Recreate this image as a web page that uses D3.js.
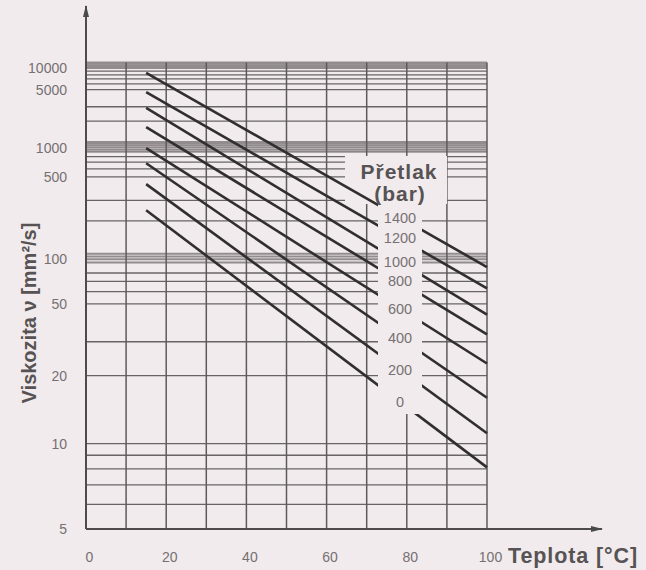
<!DOCTYPE html>
<html>
<head>
<meta charset="utf-8">
<script src="https://cdn.jsdelivr.net/npm/d3@7"></script>
<style>
  body { margin: 0; background: #f1ebed; }
  svg { display: block; font-family: 'Liberation Sans', Arial, sans-serif; }
</style>
</head>
<body>
<div id="chart"></div>
<script>
// Pressure curves: viscosity read at the start (15 °C) and the end (100 °C) of each line
var pressures = [1400, 1200, 1000, 800, 600, 400, 200, 0];
var lineTemps = [15, 100];
var viscAtStart = [8500, 4650, 2900, 1700, 985, 684, 425, 246];
var viscAtEnd = [88, 63, 43, 33, 23, 15.7, 11, 8.1];

var yTickValues = [10000, 5000, 1000, 500, 100, 50, 20, 10, 5];
var xTickValues = [0, 20, 40, 60, 80, 100];
var xGridValues = [10, 20, 30, 40, 50, 60, 70, 80, 90, 100];
var yGridValues = [9000, 8000, 7000, 6000, 5000, 3000, 2000, 900, 800, 700, 600, 500, 300, 200,
                   80, 70, 60, 50, 30, 20, 10, 9, 8, 7, 6, 5];
var yBandValues = [12000, 11500, 11000, 10500, 10000, 1150, 1100, 1050, 1000, 950, 110, 105, 100, 95];

var width = 646;
var height = 570;
var labelTemp = 78.3;

// Walther transform, the usual log-log scale of viscosity charts
var walther = function(v) { return Math.log10(Math.log10(v + 0.7)); };

var x = d3.scaleLinear().domain([0, 100]).range([86, 487]);
var w = d3.scaleLinear().domain([walther(5), walther(10000)]).range([529, 68]);
var y = function(v) { return w(walther(v)); };

var bg = '#f1ebed';
var svg = d3.select('#chart').append('svg')
            .attr('width', width)
            .attr('height', height);

svg.append('rect').attr('width', width).attr('height', height).attr('fill', bg);

var defs = svg.append('defs');
defs.append('marker')
    .attr('id', 'arrow')
    .attr('viewBox', '0 -4 12 8')
    .attr('refX', 11)
    .attr('refY', 0)
    .attr('markerWidth', 12)
    .attr('markerHeight', 8)
    .attr('markerUnits', 'userSpaceOnUse')
    .attr('orient', 'auto')
    .append('path')
    .attr('d', 'M0,-3L12,0L0,3Z')
    .attr('fill', '#4a4a4a');

// grid
var grid = svg.append('g').classed('grid', true);

grid.selectAll('line.band')
    .data(yBandValues)
    .enter()
    .append('line')
    .classed('band', true)
    .attr('x1', x(0))
    .attr('x2', x(100))
    .attr('y1', y)
    .attr('y2', y)
    .attr('stroke', '#928c8f')
    .attr('stroke-width', 2);

grid.selectAll('line.h')
    .data(yGridValues)
    .enter()
    .append('line')
    .classed('h', true)
    .attr('x1', x(0))
    .attr('x2', x(100))
    .attr('y1', y)
    .attr('y2', y)
    .attr('stroke', '#686466')
    .attr('stroke-width', 1.3);

grid.selectAll('line.v')
    .data(xGridValues)
    .enter()
    .append('line')
    .classed('v', true)
    .attr('x1', x)
    .attr('x2', x)
    .attr('y1', y(12000))
    .attr('y2', y(5))
    .attr('stroke', '#5e5a5c')
    .attr('stroke-width', 1.5);

// white space behind the legend title
svg.append('rect')
   .attr('x', 345).attr('y', 156)
   .attr('width', 102).attr('height', 48)
   .attr('fill', bg);

// pressure lines
var lines = pressures.map(function(p, i) {
  return { pressure: p, values: [[lineTemps[0], viscAtStart[i]], [lineTemps[1], viscAtEnd[i]]] };
});

var lineFunc = d3.line()
                 .x(function(d) { return x(d[0]); })
                 .y(function(d) { return y(d[1]); });

svg.append('g')
   .classed('lines-wrapper', true)
   .selectAll('path')
   .data(lines)
   .enter()
   .append('path')
   .attr('d', function(d) { return lineFunc(d.values); })
   .attr('stroke', '#312e2f')
   .attr('stroke-width', 2.6)
   .attr('fill', 'none');

// gap in the lines for the pressure labels
svg.append('rect')
   .attr('x', 378).attr('y', 204)
   .attr('width', 44).attr('height', 210)
   .attr('fill', bg);

var labelY = function(d) {
  var y0 = y(d.values[0][1]);
  var y1 = y(d.values[1][1]);
  var t = (labelTemp - d.values[0][0]) / (d.values[1][0] - d.values[0][0]);
  return y0 + (y1 - y0) * t;
};

svg.append('g')
   .selectAll('text')
   .data(lines)
   .enter()
   .append('text')
   .attr('x', x(labelTemp))
   .attr('y', labelY)
   .attr('text-anchor', 'middle')
   .attr('dominant-baseline', 'central')
   .attr('font-size', 14.5)
   .attr('fill', '#777173')
   .text(function(d) { return d.pressure; });

svg.append('text')
   .attr('x', 399).attr('y', 179)
   .attr('text-anchor', 'middle')
   .attr('font-size', 21)
   .attr('letter-spacing', 1)
   .attr('font-weight', 'bold')
   .attr('fill', '#575354')
   .text('Přetlak');

svg.append('text')
   .attr('x', 400).attr('y', 201)
   .attr('text-anchor', 'middle')
   .attr('font-size', 21)
   .attr('letter-spacing', 1)
   .attr('font-weight', 'bold')
   .attr('fill', '#575354')
   .text('(bar)');

// axes
var yAxis = d3.axisLeft(w)
              .tickValues(yTickValues.map(walther))
              .tickFormat(function(d, i) { return yTickValues[i]; })
              .tickSize(0)
              .tickPadding(19);

var yAxisG = svg.append('g')
                .attr('transform', 'translate(' + x(0) + ',0)')
                .call(yAxis);
yAxisG.select('.domain').remove();
yAxisG.selectAll('text')
      .attr('font-size', 14)
      .attr('font-family', null)
      .attr('fill', '#757072');

var xAxis = d3.axisBottom(x)
              .tickValues(xTickValues)
              .tickSize(0)
              .tickPadding(23);

var xAxisG = svg.append('g')
                .attr('transform', 'translate(3,' + y(5) + ')')
                .call(xAxis);
xAxisG.select('.domain').remove();
xAxisG.selectAll('text')
      .attr('font-size', 14)
      .attr('font-family', null)
      .attr('fill', '#757072');

svg.append('line')
   .attr('x1', x(0)).attr('y1', y(5))
   .attr('x2', x(0)).attr('y2', 6)
   .attr('stroke', '#4f4b4d')
   .attr('stroke-width', 2)
   .attr('marker-end', 'url(#arrow)');

svg.append('line')
   .attr('x1', x(0)).attr('y1', y(5))
   .attr('x2', 602).attr('y2', y(5))
   .attr('stroke', '#4f4b4d')
   .attr('stroke-width', 2)
   .attr('marker-end', 'url(#arrow)');

svg.append('text')
   .attr('transform', 'translate(36,313) rotate(-90)')
   .attr('text-anchor', 'middle')
   .attr('font-size', 20)
   .attr('font-weight', 'bold')
   .attr('fill', '#575354')
   .text('Viskozita ν [mm²/s]');

svg.append('text')
   .attr('x', 508).attr('y', 563)
   .attr('font-size', 21.5)
   .attr('letter-spacing', 0.9)
   .attr('font-weight', 'bold')
   .attr('fill', '#575354')
   .text('Teplota [°C]');
</script>
</body>
</html>
